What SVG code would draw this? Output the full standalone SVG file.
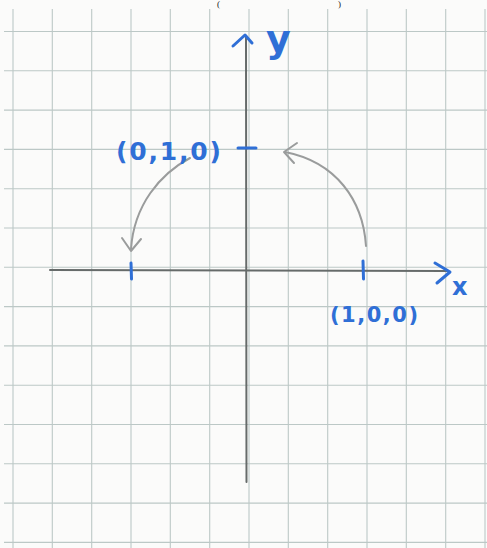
<svg xmlns="http://www.w3.org/2000/svg" width="487" height="548" viewBox="0 0 487 548">
  <style>
    .grid line { stroke: #bcc8c6; stroke-width: 1.1; }
    .axis { stroke: #666b6a; stroke-width: 2; fill: none; stroke-linecap: round; }
    .blue { stroke: #2f6fd6; stroke-width: 3; fill: none; stroke-linecap: round; stroke-linejoin: round; }
    .arc { stroke: #9a9c9c; stroke-width: 2; fill: none; stroke-linecap: round; stroke-linejoin: round; }
    .lbl { font-family: "DejaVu Sans", "Liberation Sans", sans-serif; font-weight: bold; fill: #2f6fd6; }
    .paren { font-family: "Liberation Serif", serif; fill: #222; }
  </style>
  <rect width="487" height="548" fill="#fbfbfa"/>
  <g class="paren">
    <text x="217" y="7" font-size="9">(</text>
    <text x="338" y="7" font-size="9">)</text>
  </g>
  <g class="grid" id="grid">
    <line x1="13" y1="9" x2="13" y2="548"/>
    <line x1="52.3" y1="9" x2="52.3" y2="548"/>
    <line x1="91.7" y1="9" x2="91.7" y2="548"/>
    <line x1="131" y1="9" x2="131" y2="548"/>
    <line x1="170.3" y1="9" x2="170.3" y2="548"/>
    <line x1="209.7" y1="9" x2="209.7" y2="548"/>
    <line x1="249" y1="9" x2="249" y2="548"/>
    <line x1="288.3" y1="9" x2="288.3" y2="548"/>
    <line x1="327.7" y1="9" x2="327.7" y2="548"/>
    <line x1="367" y1="9" x2="367" y2="548"/>
    <line x1="406.3" y1="9" x2="406.3" y2="548"/>
    <line x1="445.7" y1="9" x2="445.7" y2="548"/>
    <line x1="485" y1="9" x2="485" y2="548"/>
    <line x1="4" y1="31.5" x2="487" y2="31.5"/>
    <line x1="4" y1="70.8" x2="487" y2="70.8"/>
    <line x1="4" y1="110.1" x2="487" y2="110.1"/>
    <line x1="4" y1="149.4" x2="487" y2="149.4"/>
    <line x1="4" y1="188.7" x2="487" y2="188.7"/>
    <line x1="4" y1="228" x2="487" y2="228"/>
    <line x1="4" y1="267.3" x2="487" y2="267.3"/>
    <line x1="4" y1="306.6" x2="487" y2="306.6"/>
    <line x1="4" y1="345.9" x2="487" y2="345.9"/>
    <line x1="4" y1="385.2" x2="487" y2="385.2"/>
    <line x1="4" y1="424.5" x2="487" y2="424.5"/>
    <line x1="4" y1="463.8" x2="487" y2="463.8"/>
    <line x1="4" y1="503.1" x2="487" y2="503.1"/>
    <line x1="4" y1="542.4" x2="487" y2="542.4"/>
  </g>
  <g id="connectors">
    <line class="axis" x1="50" y1="270" x2="448" y2="271"/>
    <line class="axis" x1="246" y1="37" x2="246.5" y2="482"/>
    <path class="blue" d="M435 263 L450 272 L437 283"/>
    <path class="blue" d="M233 46 L245 35 L252 43"/>
    <path class="arc" d="M366 246 C363 200 336 162 285 152"/>
    <path class="arc" d="M297 143 L284 152 L294 163"/>
    <path class="arc" d="M190 158 C160 174 134 205 131 249"/>
    <path class="arc" d="M122 238 L131 251 L141 239"/>
  </g>
  <g id="tick-x1">
    <line class="blue" x1="363" y1="261" x2="363.5" y2="279"/>
  </g>
  <g id="tick-xm1">
    <line class="blue" x1="131" y1="263" x2="131.5" y2="279"/>
  </g>
  <g id="tick-y1">
    <line class="blue" x1="238" y1="148" x2="256" y2="148"/>
  </g>
  <g id="label-y">
    <text class="lbl" x="266" y="52" font-size="38" font-weight="normal">y</text>
  </g>
  <g id="label-x">
    <text class="lbl" x="452" y="295" font-size="24" font-weight="normal">x</text>
  </g>
  <g id="label-010">
    <text class="lbl" x="116" y="160" font-size="25" textLength="105" lengthAdjust="spacing">(0,1,0)</text>
  </g>
  <g id="label-100">
    <text class="lbl" x="330" y="322" font-size="21" textLength="88" lengthAdjust="spacing">(1,0,0)</text>
  </g>
</svg>
